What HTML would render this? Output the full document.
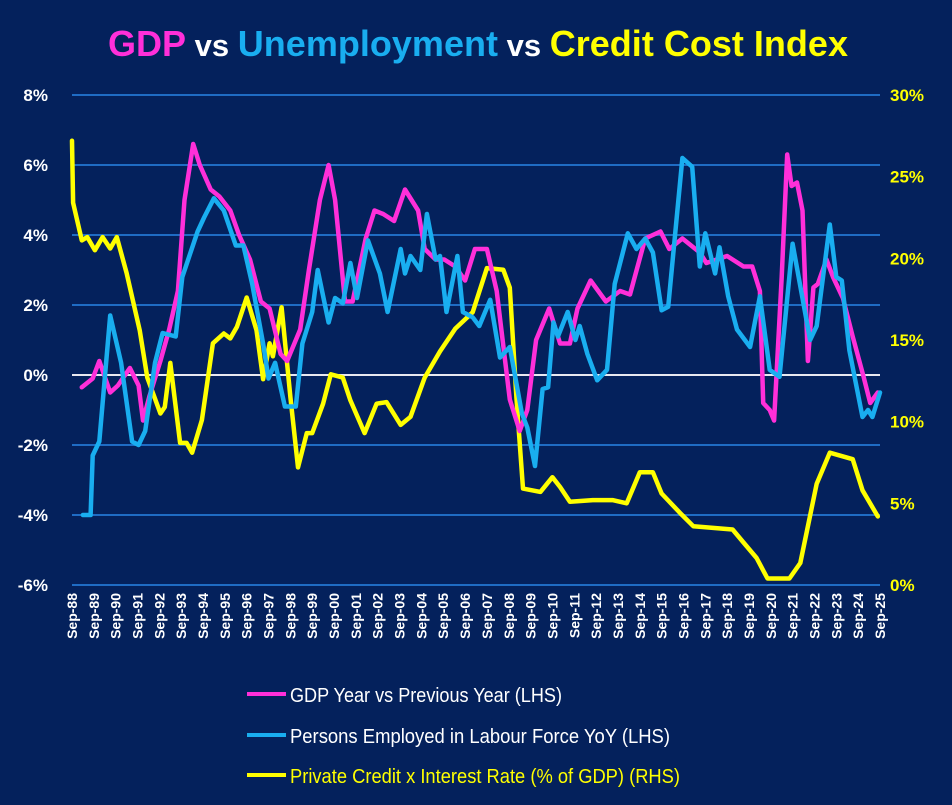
<!DOCTYPE html>
<html><head><meta charset="utf-8"><style>
body{margin:0;background:#04215c;}
svg{display:block;font-family:"Liberation Sans",Arial,sans-serif;}
</style></head><body>
<svg id="chart" width="952" height="805" xmlns="http://www.w3.org/2000/svg">
<rect width="952" height="805" fill="#04215c"/>
<text x="478" y="56" text-anchor="middle" font-size="36" font-weight="bold" textLength="740"><tspan fill="#ff2fd9">GDP</tspan><tspan fill="#fff" font-size="31"> vs </tspan><tspan fill="#19aef0">Unemployment</tspan><tspan fill="#fff" font-size="31"> vs </tspan><tspan fill="#ffff00">Credit Cost Index</tspan></text>
<g id="grid"></g><g id="axes"></g><g id="series"></g>
<g>
<line x1="247" y1="694" x2="286" y2="694" stroke="#ff2fd9" stroke-width="4"/>
<text x="290" y="702" fill="#fff" font-size="20" textLength="272" lengthAdjust="spacingAndGlyphs">GDP Year vs Previous Year (LHS)</text>
<line x1="247" y1="735" x2="286" y2="735" stroke="#19aef0" stroke-width="4"/>
<text x="290" y="743" fill="#fff" font-size="20" textLength="380" lengthAdjust="spacingAndGlyphs">Persons Employed in Labour Force YoY (LHS)</text>
<line x1="247" y1="775" x2="286" y2="775" stroke="#ffff00" stroke-width="4"/>
<text x="290" y="783" fill="#ffff00" font-size="20" textLength="390" lengthAdjust="spacingAndGlyphs">Private Credit x Interest Rate (% of GDP) (RHS)</text>
</g>
</svg>
<script>
const leftTicks=[8,6,4,2,0,-2,-4,-6];
const rightTicks=[30,25,20,15,10,5,0];
const gdpT=[1989.2,1989.7,1990.0,1990.5,1990.85,1991.4,1991.8,1992.0,1992.3,1992.8,1993.2,1993.6,1993.9,1994.3,1994.6,1995.1,1995.5,1996.0,1996.4,1996.9,1997.4,1997.8,1998.3,1998.6,1999.2,1999.6,2000.1,2000.5,2000.8,2001.25,2001.6,2002.2,2002.6,2003.0,2003.5,2004.0,2004.6,2004.9,2005.4,2005.8,2006.3,2006.75,2007.2,2007.75,2008.2,2008.8,2009.25,2009.6,2010.0,2010.6,2011.1,2011.55,2011.9,2012.5,2013.2,2013.85,2014.3,2015.0,2015.7,2016.1,2016.7,2017.5,2017.8,2018.75,2019.5,2019.9,2020.25,2020.4,2020.7,2020.9,2021.25,2021.5,2021.7,2021.95,2022.2,2022.45,2022.7,2022.9,2023.3,2023.6,2024.05,2024.5,2025.0,2025.3,2025.65];
const gdpV=[-0.35,-0.1,0.4,-0.5,-0.3,0.2,-0.3,-1.3,-0.6,0.4,1.3,2.4,5.0,6.6,6.0,5.3,5.1,4.7,4.0,3.3,2.1,1.9,0.6,0.4,1.3,3.0,5.0,6.0,5.0,2.1,2.1,3.9,4.7,4.6,4.4,5.3,4.7,3.6,3.3,3.3,3.1,2.7,3.6,3.6,2.4,-0.7,-1.6,-1.0,1.0,1.9,0.9,0.9,1.9,2.7,2.1,2.4,2.3,3.9,4.1,3.6,3.9,3.5,3.2,3.4,3.1,3.1,2.4,-0.8,-1.0,-1.3,2.8,6.3,5.4,5.5,4.7,0.4,2.5,2.6,3.3,2.8,2.2,1.1,-0.05,-0.8,-0.5];
const empT=[1989.25,1989.6,1989.7,1990.0,1990.5,1991.0,1991.5,1991.8,1992.1,1992.55,1992.9,1993.5,1993.8,1994.5,1994.8,1995.25,1995.7,1996.25,1996.6,1997.0,1997.5,1997.75,1998.05,1998.5,1999.0,1999.3,1999.75,2000.0,2000.5,2000.8,2001.15,2001.5,2001.8,2002.3,2002.85,2003.2,2003.8,2004.0,2004.25,2004.7,2005.0,2005.4,2005.6,2005.9,2006.4,2006.65,2007.1,2007.4,2007.9,2008.35,2008.8,2009.35,2009.6,2009.95,2010.3,2010.55,2010.8,2011.0,2011.45,2011.8,2012.0,2012.35,2012.8,2013.25,2013.6,2014.2,2014.6,2015.0,2015.35,2015.75,2016.05,2016.7,2017.15,2017.5,2017.75,2018.2,2018.4,2018.8,2019.2,2019.8,2020.25,2020.7,2021.15,2021.75,2022.55,2022.85,2023.45,2023.75,2024.0,2024.35,2024.95,2025.2,2025.4,2025.75];
const empV=[-4.0,-4.0,-2.3,-1.9,1.7,0.35,-1.9,-2.0,-1.6,0.35,1.2,1.1,2.8,4.1,4.5,5.05,4.7,3.7,3.7,2.6,0.9,-0.1,0.35,-0.9,-0.9,0.9,1.8,3.0,1.5,2.2,2.05,3.2,2.2,3.85,2.9,1.8,3.6,2.9,3.4,3.0,4.6,3.3,3.4,1.8,3.4,1.8,1.65,1.4,2.15,0.5,0.8,-1.1,-1.5,-2.6,-0.4,-0.35,1.5,1.1,1.8,1.0,1.4,0.6,-0.15,0.15,2.6,4.05,3.6,3.9,3.5,1.85,1.95,6.2,5.95,3.1,4.05,2.9,3.65,2.25,1.3,0.8,2.25,0.15,-0.05,3.75,1.0,1.4,4.3,2.8,2.7,0.7,-1.2,-1.0,-1.2,-0.5];
const crT=[1988.75,1988.8,1989.2,1989.45,1989.8,1990.15,1990.5,1990.8,1991.25,1991.85,1992.2,1992.8,1993.0,1993.25,1993.7,1994.0,1994.25,1994.7,1995.2,1995.7,1996.0,1996.3,1996.75,1997.2,1997.5,1997.8,1997.95,1998.35,1998.75,1999.1,1999.5,1999.75,2000.25,2000.6,2001.15,2001.5,2002.15,2002.7,2003.15,2003.8,2004.25,2004.9,2005.6,2006.3,2007.1,2007.75,2008.5,2008.8,2009.1,2009.4,2010.2,2010.75,2011.1,2011.55,2012.6,2013.5,2014.15,2014.75,2015.35,2015.75,2016.6,2017.2,2019.0,2019.5,2020.1,2020.6,2021.6,2022.1,2022.85,2023.45,2024.5,2024.95,2025.65];
const crV=[27.2,23.4,21.1,21.3,20.5,21.3,20.6,21.3,19.1,15.6,12.7,10.5,10.9,13.6,8.7,8.7,8.1,10.1,14.8,15.4,15.1,15.8,17.6,15.6,12.6,14.8,14.0,17.0,11.5,7.2,9.3,9.3,11.1,12.9,12.7,11.3,9.3,11.1,11.2,9.8,10.3,12.7,14.3,15.7,16.7,19.4,19.3,18.2,11.5,5.9,5.7,6.6,6.0,5.1,5.2,5.2,5.0,6.9,6.9,5.6,4.4,3.6,3.4,2.6,1.65,0.4,0.4,1.35,6.2,8.1,7.7,5.8,4.2];
const yearLabels=[];for(let y=1988;y<=2025;y++)yearLabels.push('Sep-'+String(y%100).padStart(2,'0'));

const NS='http://www.w3.org/2000/svg';
const X0=72,X1=880;
const xs=t=>X0+(t-1988.75)*(X1-X0)/37;
const yl=v=>375-v*35;
const yr=v=>585-v*(490/30);
function mk(tag,attrs,parent){const e=document.createElementNS(NS,tag);for(const k in attrs)e.setAttribute(k,attrs[k]);parent.appendChild(e);return e;}
const grid=document.getElementById('grid'),axes=document.getElementById('axes'),ser=document.getElementById('series');
leftTicks.forEach(v=>{
  const l=mk('line',{x1:X0,x2:X1,y1:yl(v),y2:yl(v),stroke:v===0?'#e8e8f0':'#1f6cc4','stroke-width':2},grid);
  
  
  const t=mk('text',{x:48,y:yl(v)+6,fill:'#fff','font-size':17,'font-weight':'bold','text-anchor':'end'},axes);
  t.textContent=v+'%';
  
  
});
rightTicks.forEach(v=>{
  const t=mk('text',{x:890,y:yr(v)+6,fill:'#ffff00','font-size':17,'font-weight':'bold'},axes);
  t.textContent=v+'%';
  
  
});
yearLabels.forEach((s,i)=>{
  const x=xs(1988.75+i);
  const t=mk('text',{x:0,y:0,fill:'#fff','font-size':14,'font-weight':'bold','text-anchor':'end',transform:`translate(${x+5},${593}) rotate(-90)`},axes);
  t.textContent=s;
  
  
});
function line(T,V,yf,color,name){
  const d=T.map((t,i)=>(i?'L':'M')+xs(t).toFixed(1)+','+yf(V[i]).toFixed(1)).join('');
  const p=mk('path',{d:d,fill:'none',stroke:color,'stroke-width':4.5,'stroke-linejoin':'round','stroke-linecap':'round'},ser);
  
  
}
line(crT,crV,yr,'#ffff00','credit-cost-line');
line(gdpT,gdpV,yl,'#ff2fd9','gdp-line');
line(empT,empV,yl,'#19aef0','employment-line');
</script>
</body></html>
